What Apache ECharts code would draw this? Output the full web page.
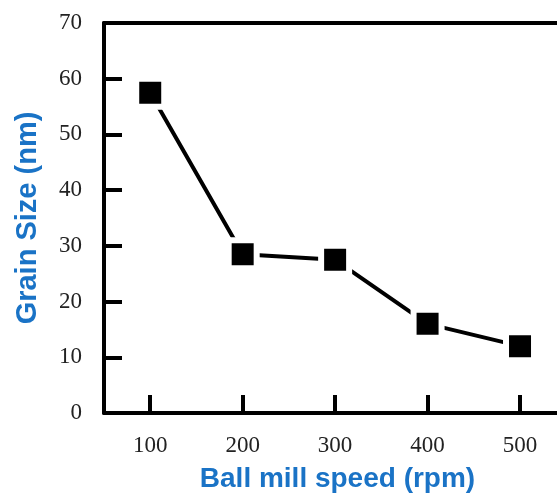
<!DOCTYPE html>
<html>
<head>
<meta charset="utf-8">
<script src="https://cdn.jsdelivr.net/npm/echarts@6/dist/echarts.min.js"></script>
<style>
  html, body { margin: 0; padding: 0; background: #fff; }
  #chart { width: 557px; height: 494px; }
</style>
</head>
<body>
<div id="chart"></div>
<script>
const speeds = [100, 200, 300, 400, 500]
const grainSize = [57.5, 28.5, 27.5, 16, 12]
const xTicks = [100, 200, 300, 400, 500]
const yTicks = [10, 20, 30, 40, 50, 60]

const chart = echarts.init(document.getElementById('chart'))

const serif = '"Liberation Serif", "DejaVu Serif", serif'
const titleFont = '"Liberation Sans", Arial, sans-serif'
const titleBlue = '#1a73c6'

chart.setOption({
  animation: false,
  grid: { left: 104, top: 23, right: 0, height: 390, containLabel: false, outerBoundsMode: 'none' },
  xAxis: [
    {
      type: 'value',
      min: 50,
      max: 540,
      name: 'Ball mill speed (rpm)',
      nameLocation: 'middle',
      nameGap: 52,
      nameTextStyle: { fontFamily: titleFont, fontWeight: 'bold', fontSize: 28, color: titleBlue, padding: [0, 0, 0, 14] },
      axisLine: { show: true, lineStyle: { color: '#000', width: 4 } },
      axisTick: { show: true, inside: true, length: 18, customValues: xTicks, lineStyle: { color: '#000', width: 4 } },
      axisLabel: { customValues: xTicks, margin: 21, fontFamily: serif, fontSize: 23, color: '#222' },
      splitLine: { show: false },
    },
    {
      type: 'value',
      position: 'top',
      min: 50,
      max: 540,
      axisLine: { show: true, lineStyle: { color: '#000', width: 4 } },
      axisTick: { show: false },
      axisLabel: { show: false },
      splitLine: { show: false },
    },
  ],
  yAxis: {
    type: 'value',
    min: 0,
    max: 70,
    interval: 10,
    name: 'Grain Size (nm)',
    nameLocation: 'middle',
    nameGap: 62,
    nameTextStyle: { fontFamily: titleFont, fontWeight: 'bold', fontSize: 29, color: titleBlue },
    axisLine: { show: true, lineStyle: { color: '#000', width: 4 } },
    axisTick: { show: true, inside: true, length: 18, customValues: yTicks, lineStyle: { color: '#000', width: 4 } },
    axisLabel: { margin: 22, fontFamily: serif, fontSize: 23, color: '#222' },
    splitLine: { show: false },
  },
  series: [
    {
      type: 'line',
      data: speeds.map((s, i) => [s, grainSize[i]]),
      symbol: 'rect',
      symbolSize: 28,
      itemStyle: { color: '#000', borderColor: '#fff', borderWidth: 6 },
      lineStyle: { color: '#000', width: 4 },
    },
  ],
})
</script>
</body>
</html>
